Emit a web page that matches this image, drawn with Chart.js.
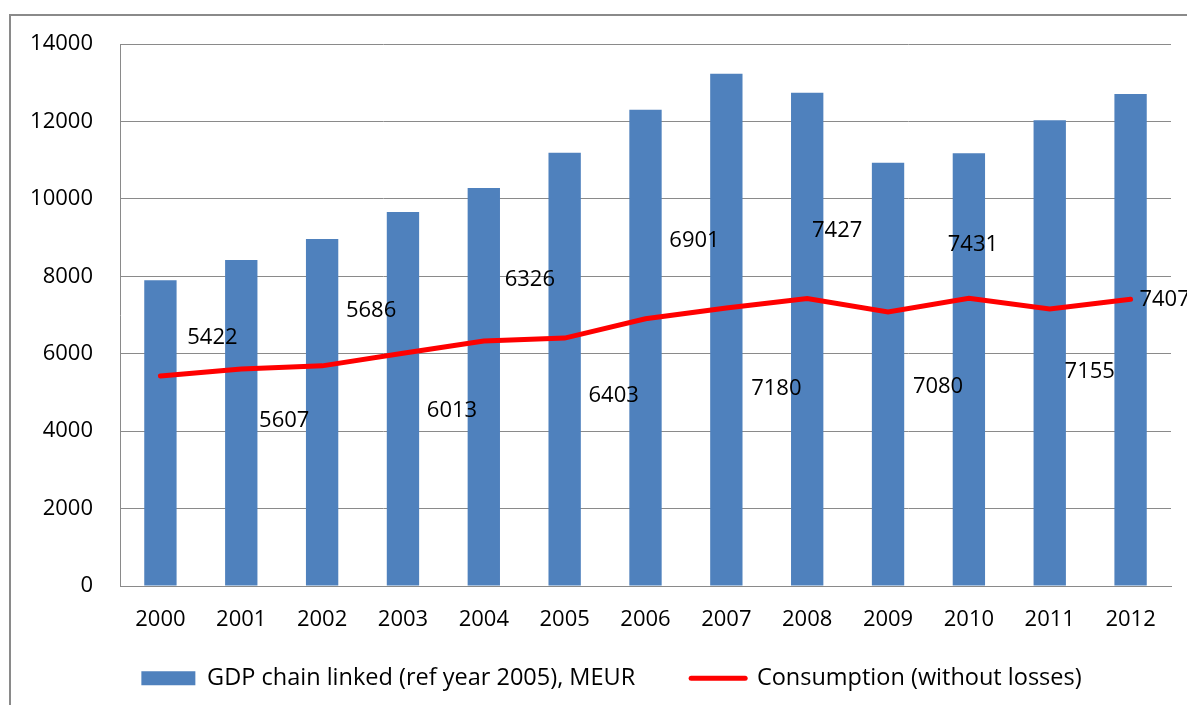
<!DOCTYPE html>
<html>
<head>
<meta charset="utf-8">
<script src="https://cdn.jsdelivr.net/npm/chart.js@4"></script>
<style>
  html, body { margin: 0; padding: 0; background: #fff; overflow: hidden; }
  #wrap { position: relative; width: 1187px; height: 705px; }
  #frame { position: absolute; left: 9px; top: 14px; width: 1300px; height: 800px;
           border-left: 2px solid #8a8a8a; border-top: 2px solid #8a8a8a; }
  canvas { position: absolute; left: 0; top: 0; }
</style>
</head>
<body>
<div id="wrap">
  <div id="frame"></div>
  <canvas id="chart" width="1187" height="705"></canvas>
</div>
<script>
// chart data
const years = ['2000', '2001', '2002', '2003', '2004', '2005', '2006',
               '2007', '2008', '2009', '2010', '2011', '2012'];
const gdp = [7900, 8420, 8960, 9660, 10280, 11190, 12300,
             13230, 12740, 10930, 11180, 12030, 12710];
const consumption = [5422, 5607, 5686, 6013, 6326, 6403, 6901,
                     7180, 7427, 7080, 7431, 7155, 7407];
const gdpLabel = 'GDP chain linked (ref year 2005), MEUR';
const consLabel = 'Consumption (without losses)';

// where each consumption label sits relative to its point (px)
const labelOffsets = [[52, -38], [43, 52], [49, -55], [49, 58], [46, -61], [49, 58], [49, -78],
                      [50, 81], [30, -68], [50, 75], [4, -54], [40, 63], [34, 0]];

const fontFamily = "'Open Sans', 'Noto Sans', sans-serif";
const fontSize = 22;

const valueLabels = {
  id: 'valueLabels',
  afterDatasetsDraw(chart) {
    const meta = chart.getDatasetMeta(0);
    const ctx = chart.ctx;
    ctx.save();
    ctx.font = fontSize + 'px ' + fontFamily;
    ctx.fillStyle = '#000';
    ctx.textAlign = 'center';
    ctx.textBaseline = 'middle';
    meta.data.forEach((pt, i) => {
      const [dx, dy] = labelOffsets[i];
      ctx.fillText(String(consumption[i]), pt.x + dx, pt.y + dy);
    });
    ctx.restore();
  }
};

// nudge the legend right and give the x labels room below the axis
const layoutTweak = {
  id: 'layoutTweak',
  afterLayout(chart) {
    chart.legend.left += 52;
    chart.scales.x.bottom = chart.scales.x.top + 70;
  }
};

new Chart(document.getElementById('chart'), {
  type: 'bar',
  data: {
    labels: years,
    datasets: [
      {
        type: 'line',
        label: consLabel,
        data: consumption,
        borderColor: '#ff0000',
        backgroundColor: '#ff0000',
        borderWidth: 5,
        borderCapStyle: 'round',
        pointRadius: 0,
        tension: 0,
        clip: false
      },
      {
        type: 'bar',
        label: gdpLabel,
        data: gdp,
        backgroundColor: '#4f81bd',
        categoryPercentage: 1,
        barPercentage: 0.4
      }
    ]
  },
  options: {
    responsive: false,
    animation: false,
    layout: { padding: { top: 44, right: 16, left: 0, bottom: 5 } },
    scales: {
      x: {
        grid: { display: false, drawTicks: false },
        border: { display: true, color: '#8a8a8a', width: 1 },
        ticks: { color: '#000', padding: 21, font: { family: fontFamily, size: fontSize } },
        afterFit(scale) { scale.height = 24.5; }
      },
      y: {
        min: 0,
        max: 14000,
        ticks: { stepSize: 2000, color: '#000', padding: 27,
                 font: { family: fontFamily, size: fontSize },
                 callback: v => String(v) },
        grid: { color: '#8a8a8a', lineWidth: 1, drawTicks: false },
        border: { display: true, color: '#8a8a8a', width: 1 },
        afterFit(scale) { scale.width = 120; }
      }
    },
    plugins: {
      tooltip: { enabled: false },
      legend: {
        position: 'bottom',
        labels: {
          usePointStyle: true,
          pointStyleWidth: 54,
          boxHeight: 14,
          padding: 56,
          color: '#000',
          font: { family: fontFamily, size: 23.5 },
          generateLabels() {
            return [
              { text: gdpLabel, fillStyle: '#4f81bd', strokeStyle: '#4f81bd', lineWidth: 0,
                pointStyle: 'rect', datasetIndex: 1, fontColor: '#000' },
              { text: consLabel, fillStyle: '#ff0000', strokeStyle: '#ff0000', lineWidth: 5,
                lineCap: 'round', pointStyle: 'line', datasetIndex: 0, fontColor: '#000' }
            ];
          }
        }
      }
    }
  },
  plugins: [valueLabels, layoutTweak]
});
</script>
</body>
</html>
